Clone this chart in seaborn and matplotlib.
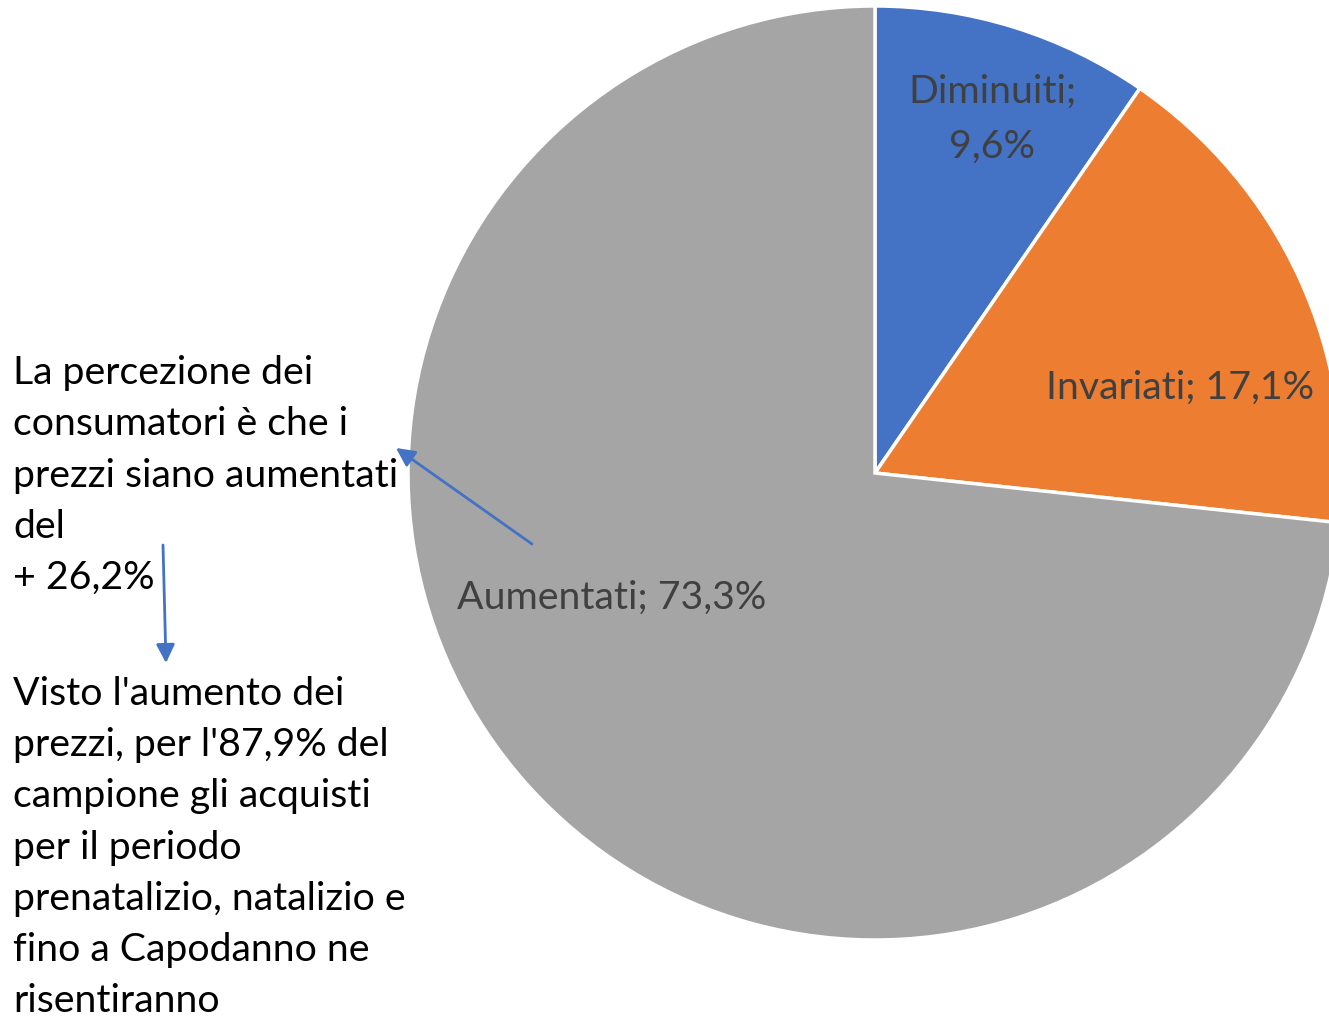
import numpy as np
import seaborn as sns
import matplotlib.pyplot as plt

# Data
categories = ['Diminuiti', 'Invariati', 'Aumentati']
shares = [9.6, 17.1, 73.3]
colors = ['#4472C4', '#ED7D31', '#A5A5A5']
slice_labels = [['Diminuiti;', '9,6%'], ['Invariati; 17,1%'], ['Aumentati; 73,3%']]

note_top = ['La percezione dei', 'consumatori è che i', 'prezzi siano aumentati', 'del', '+ 26,2%']
note_bottom = ["Visto l'aumento dei", "prezzi, per l'87,9% del", 'campione gli acquisti',
               'per il periodo', 'prenatalizio, natalizio e', 'fino a Capodanno ne', 'risentiranno']

sns.set_style('white')
plt.rcParams['font.family'] = ['Lato', 'DejaVu Sans']

W, H = 1329, 1020
fig = plt.figure(figsize=(W / 100, H / 100), dpi=100)
ax = fig.add_axes([0, 0, 1, 1])

# pie (y axis inverted, so go counterclockwise in data = clockwise on screen)
wedges, _ = ax.pie(shares, colors=colors, startangle=-90, counterclock=True,
                   center=(875, 474), radius=467, frame=True,
                   wedgeprops=dict(edgecolor='white', linewidth=2.5))
ax.set_xlim(0, W)
ax.set_ylim(H, 0)
ax.set_aspect('equal')
ax.axis('off')

lab_col = '#404040'
fs = 28.3
label_pos = [(992, [92, 147]), (1180, [388]), (612, [598])]
for lines, (x, ys) in zip(slice_labels, label_pos):
    for line, y in zip(lines, ys):
        ax.text(x, y, line, ha='center', va='center', fontsize=fs, color=lab_col)

for i, line in enumerate(note_top):
    ax.text(13, 373 + i * 51.3, line, ha='left', va='center', fontsize=fs, color='black')
for i, line in enumerate(note_bottom):
    ax.text(13, 694 + i * 51.2, line, ha='left', va='center', fontsize=fs, color='black')

arrow = dict(arrowstyle='-|>', color='#4472C4', lw=2, mutation_scale=28, shrinkA=0, shrinkB=0)
ax.annotate('', xy=(396, 449), xytext=(532, 545), arrowprops=arrow)
ax.annotate('', xy=(166, 664), xytext=(163, 546), arrowprops=arrow)

fig.savefig('out.png', dpi=100)
